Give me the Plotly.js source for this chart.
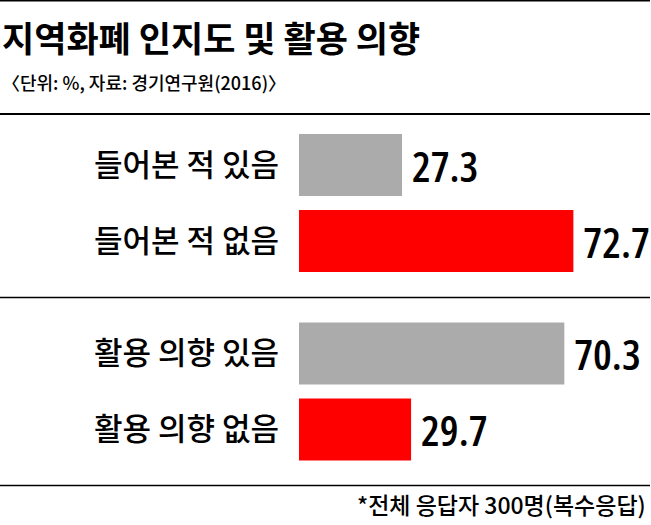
<!DOCTYPE html>
<html>
<head>
<meta charset="utf-8">
<script src="https://cdn.plot.ly/plotly-3.0.1.min.js"></script>
<style>
html, body { margin: 0; padding: 0; background: #fff; }
#chart { width: 651px; height: 525px; }
.bartext { font-stretch: 75% !important; }
</style>
</head>
<body>
<div id="chart"></div>
<script>
// ---- data ----
const titleText = '지역화폐 인지도 및 활용 의향';
const subtitleText = '〈단위: %, 자료: 경기연구원(2016)〉';
const footnoteText = '*전체 응답자 300명(복수응답)';

const awarenessLabels = ['들어본 적 있음', '들어본 적 없음'];
const awarenessValues = [27.3, 72.7];

const intentLabels = ['활용 의향 있음', '활용 의향 없음'];
const intentValues = [70.3, 29.7];

const barColors = ['#ababab', '#fe0000'];

// ---- styling ----
const W = 651, H = 525;
const px2x = v => v / W;
const px2y = v => 1 - v / H;
const korFont = '"Noto Sans CJK KR", "Noto Sans", sans-serif';
const numFont = '"Open Sans", "Liberation Sans", Arial, sans-serif';

function barTrace(labels, values, yaxis) {
  return {
    type: 'bar',
    orientation: 'h',
    x: values,
    y: labels,
    xaxis: 'x',
    yaxis: yaxis,
    marker: { color: barColors, line: { width: 0 } },
    texttemplate: '\u2009%{x:.1f}',
    textposition: 'outside',
    constraintext: 'none',
    cliponaxis: false,
    textfont: { family: numFont, size: 42, weight: 600, color: '#000' },
    hoverinfo: 'skip',
    showlegend: false
  };
}

const data = [
  barTrace(awarenessLabels, awarenessValues, 'y'),
  barTrace(intentLabels, intentValues, 'y2')
];

const yCommon = {
  type: 'category',
  autorange: 'reversed',
  showgrid: false,
  zeroline: false,
  showline: false,
  ticks: '',
  ticklabelstandoff: 19,
  tickfont: { family: korFont, size: 31, weight: 500, color: '#000' },
  anchor: 'x',
  fixedrange: true
};

const lineStyle = (y, w) => ({
  type: 'line', xref: 'paper', yref: 'paper',
  x0: 0, x1: px2x(650), y0: px2y(y), y1: px2y(y),
  line: { color: '#000', width: w }
});

const layout = {
  width: W,
  height: H,
  margin: { l: 0, r: 0, t: 0, b: 0 },
  paper_bgcolor: '#fff',
  plot_bgcolor: '#fff',
  bargap: 0.184,
  title: {
    text: '<b>' + titleText + '</b>',
    x: px2x(2), xanchor: 'left', xref: 'paper',
    y: px2y(40), yanchor: 'middle', yref: 'paper',
    font: { family: korFont, size: 35, color: '#000' }
  },
  xaxis: {
    domain: [px2x(299), px2x(650)],
    range: [0, 93],
    visible: false,
    fixedrange: true
  },
  yaxis: Object.assign({}, yCommon, { domain: [px2y(279), px2y(127)] }),
  yaxis2: Object.assign({}, yCommon, { domain: [px2y(467.5), px2y(315.5)] }),
  shapes: [
    lineStyle(0.7, 1.5),
    lineStyle(114, 2),
    lineStyle(297.5, 1.5),
    lineStyle(485.5, 1.5)
  ],
  annotations: [
    {
      text: subtitleText, xref: 'paper', yref: 'paper',
      x: px2x(0), xanchor: 'left', y: px2y(82), yanchor: 'middle',
      showarrow: false,
      font: { family: korFont, size: 18, weight: 500, color: '#000' }
    },
    {
      text: footnoteText, xref: 'paper', yref: 'paper',
      x: px2x(648), xanchor: 'right', y: px2y(504), yanchor: 'middle',
      showarrow: false,
      font: { family: korFont, size: 23, weight: 500, color: '#000' }
    }
  ]
};

Plotly.newPlot('chart', data, layout, { displayModeBar: false, staticPlot: true });
</script>
</body>
</html>
